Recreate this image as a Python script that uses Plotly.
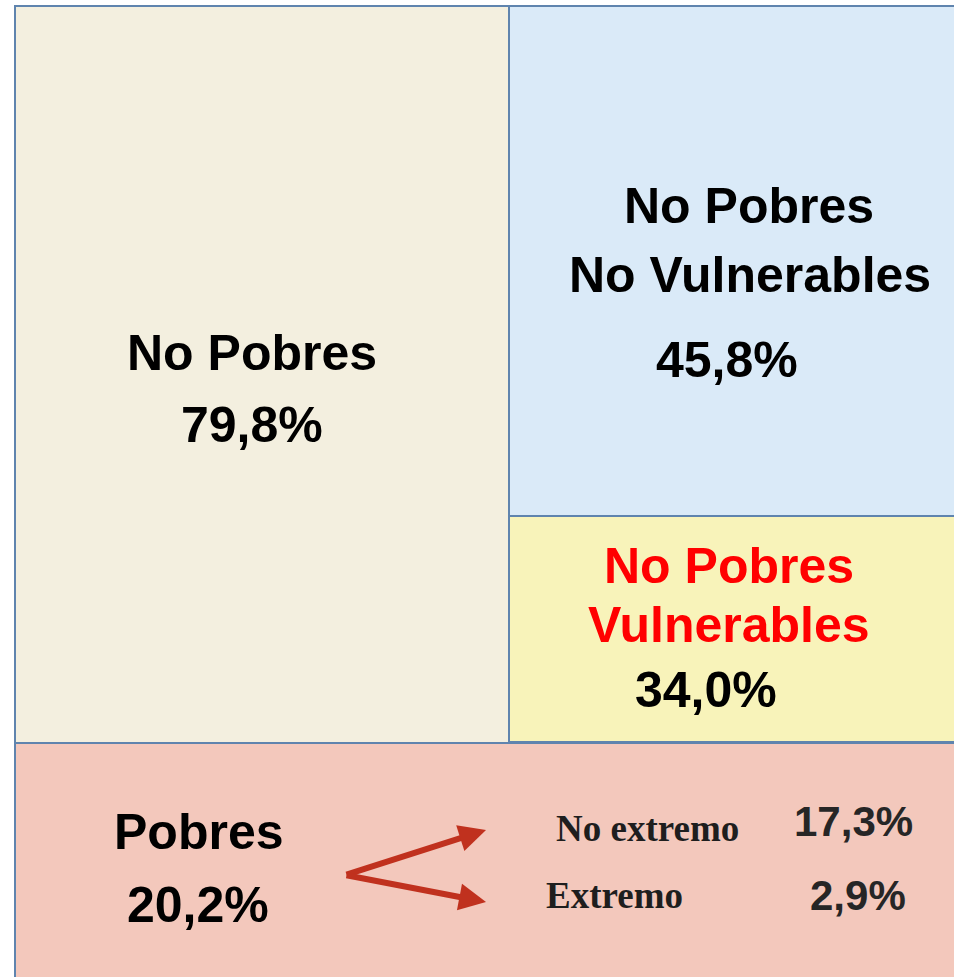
import plotly.graph_objects as go

# ---- data ----
group_labels = ["No Pobres", "Pobres"]
group_values = [79.8, 20.2]
sub_labels = ["No Pobres<br>No Vulnerables", "No Pobres<br>Vulnerables"]
sub_values = [45.8, 34.0]
poor_labels = ["No extremo", "Extremo"]
poor_values = [17.3, 2.9]

def pct(v):
    return f"{v:.1f}".replace(".", ",") + "%"

W, H = 954, 977
fig = go.Figure()

border = "#5F84AE"
boxes = [
    (15, 6, 509, 743, "#F3EFDF"),
    (509, 6, 965, 516, "#DAEAF8"),
    (509, 516, 965, 742, "#F8F3BA"),
    (15, 743, 965, 990, "#F3C8BC"),
]
for x0, y0, x1, y1, c in boxes:
    fig.add_shape(type="rect", x0=x0, y0=y0, x1=x1, y1=y1, xref="x", yref="y",
                  fillcolor=c, line=dict(color=border, width=2), layer="below")

big = dict(family="Liberation Sans, Arial", size=50, color="black")
red = dict(family="Liberation Sans, Arial", size=50, color="#FF0000")

def txt(x, y, t, font):
    fig.add_annotation(x=x, y=y, xref="x", yref="y", text=f"<b>{t}</b>",
                       showarrow=False, font=font, xanchor="center", yanchor="middle")

txt(252, 353, group_labels[0], big)
txt(252, 425, pct(group_values[0]), big)
l1, l2 = sub_labels[0].split("<br>")
txt(749, 206, l1, big)
txt(750, 275, l2, big)
txt(727, 360, pct(sub_values[0]), big)
l1, l2 = sub_labels[1].split("<br>")
txt(729, 566, l1, red)
txt(729, 625, l2, red)
txt(706, 690, pct(sub_values[1]), big)
txt(199, 832, group_labels[1], big)
txt(198, 905, pct(group_values[1]), big)

bl = dict(family="Liberation Serif, DejaVu Serif", size=37, color="#1E1E1E")
num = dict(family="Liberation Sans, Arial", size=42, color="#262626")
txt(647, 828, poor_labels[0], bl)
txt(614, 895, poor_labels[1], bl)
txt(853, 821, pct(poor_values[0]), num)
txt(858, 895, pct(poor_values[1]), num)

for (xe, ye) in [(486, 830), (486, 902)]:
    fig.add_annotation(x=xe, y=ye, ax=345, ay=875, xref="x", yref="y", axref="x", ayref="y",
                       text="", showarrow=True, arrowhead=2, arrowsize=0.9, arrowwidth=6,
                       arrowcolor="#C0311E")

fig.update_xaxes(range=[0, W], visible=False, fixedrange=True)
fig.update_yaxes(range=[H, 0], visible=False, fixedrange=True)
fig.update_layout(width=W, height=H, margin=dict(l=0, r=0, t=0, b=0),
                  plot_bgcolor="white", paper_bgcolor="white", showlegend=False)
fig.write_html("out.html", config={"displayModeBar": False},
               post_script="document.body.style.margin='0';document.body.style.overflow='hidden';")
